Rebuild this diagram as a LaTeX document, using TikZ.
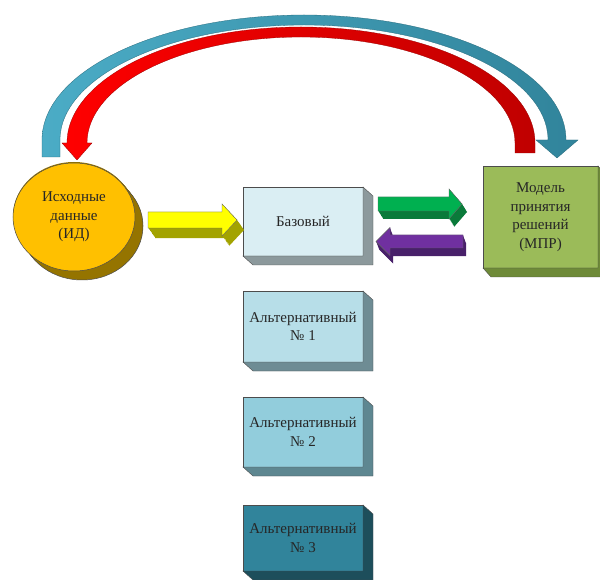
\documentclass[tikz,border=0pt]{standalone}
\usepackage{fontspec}
\setmainfont{Liberation Serif}
\usetikzlibrary{shapes.geometric,calc}
\definecolor{blueL}{HTML}{4BACC6}
\definecolor{blueD}{HTML}{31849B}
\definecolor{redL}{HTML}{FF0000}
\definecolor{redD}{HTML}{C00000}
\definecolor{idfront}{HTML}{FFC000}
\definecolor{iddark}{HTML}{957400}
\definecolor{basefront}{HTML}{DAEEF3}
\definecolor{baseside}{HTML}{8C999C}
\definecolor{altAfront}{HTML}{B7DEE8}
\definecolor{altAside}{HTML}{6E8C94}
\definecolor{altBfront}{HTML}{92CDDC}
\definecolor{altBside}{HTML}{5E8791}
\definecolor{altCfront}{HTML}{31849B}
\definecolor{altCside}{HTML}{1D4E5B}
\definecolor{mprfront}{HTML}{9BBB59}
\definecolor{mprside}{HTML}{6E8A38}
\definecolor{yfront}{HTML}{FFFF00}
\definecolor{ydark}{HTML}{A3A300}
\definecolor{gfront}{HTML}{00B050}
\definecolor{gdark}{HTML}{0A7A3A}
\definecolor{pfront}{HTML}{7030A0}
\definecolor{pdark}{HTML}{48206A}
\newcommand\arrowpoly[7]{\path[#1] (#2,#5-#6) -- (#3,#5-#6) -- (#3,#5-#7) -- (#4,#5) -- (#3,#5+#7) -- (#3,#5+#6) -- (#2,#5+#6) -- cycle;}
\newcommand\extrude[3]{\fill[#2, draw=black!70, line width=0.4pt] (#1.north east) -- ($(#1.north east)+(#3)$) -- ($(#1.south east)+(#3)$) -- ($(#1.south west)+(#3)$) -- (#1.south west) -- (#1.south east) -- cycle;}
\tikzset{
  lbl/.style={font=\fontsize{15}{18.5}\selectfont, align=center, text=black!85},
  box/.style={lbl, rectangle, draw=black!70, line width=0.5pt, inner sep=0pt, outer sep=0pt, minimum width=120pt},
  edge/.style={draw=black!60, line width=0.4pt}
}
\begin{document}
\begin{tikzpicture}[x=1pt,y=-1pt]
\useasboundingbox (0,0) rectangle (600,580);
\fill[white] (0,0) rectangle (600,580);

% big curved arrows
\shade[left color=blueL, right color=blueD, draw=blueD!80!black, line width=0.3pt]
  (42,157) -- (42,140) arc[start angle=180, end angle=360, x radius=262, y radius=125]
  -- (578,140) -- (557,158) -- (536,140) -- (548,140)
  arc[start angle=360, end angle=180, x radius=244, y radius=115] -- (60,157) -- cycle;
\shade[left color=redL, right color=redD, draw=redD!80!black, line width=0.3pt]
  (535,153) -- (535,143) arc[start angle=360, end angle=180, x radius=234, y radius=116]
  -- (62,143) -- (77,160) -- (92,143) -- (87,143)
  arc[start angle=180, end angle=360, x radius=214, y radius=106] -- (515,153) -- cycle;

% source data ellipse
\foreach \k in {0,1,...,12}{
  \fill[iddark] (74+0.67*\k,216+0.83*\k) ellipse [x radius=61, y radius=54];}
\draw[black!70, line width=0.5pt] (82,226) ellipse [x radius=61, y radius=54];
\node[lbl, ellipse, fill=idfront, draw=black!70, line width=0.5pt, inner sep=0pt,
  minimum width=122pt, minimum height=108pt] (id) at (74,217) {Исходные\\данные\\(ИД)};

% boxes
\node[box, fill=basefront, minimum height=69pt] (base) at (303,221.5) {Базовый};
\extrude{base}{baseside}{10,9}
\node[box, fill=altAfront, minimum height=71pt] (alt1) at (303,326.5) {Альтернативный\\№ 1};
\extrude{alt1}{altAside}{10,9}
\node[box, fill=altBfront, minimum height=70pt] (alt2) at (303,432) {Альтернативный\\№ 2};
\extrude{alt2}{altBside}{10,9}
\node[box, fill=altCfront, minimum height=66pt] (alt3) at (303,538) {Альтернативный\\№ 3};
\extrude{alt3}{altCside}{10,9}
\node[box, fill=mprfront, minimum width=115pt, minimum height=102pt] (mpr) at (540.5,217) {Модель\\принятия\\решений\\(МПР)};
\extrude{mpr}{mprside}{8,9}

% block arrows
\foreach \k in {0,0.1,...,1.01}{
  \arrowpoly{fill=ydark, shift={(7*\k,10*\k)}}{148}{222}{237}{220}{8}{16}}
\arrowpoly{fill=yfront, edge}{148}{222}{237}{220}{8}{16}

\foreach \k in {0,0.1,...,1.01}{
  \arrowpoly{fill=gdark, shift={(5*\k,8*\k)}}{378}{449}{462}{204}{7}{15}}
\arrowpoly{fill=gfront, edge}{378}{449}{462}{204}{7}{15}

\foreach \k in {0,0.1,...,1.01}{
  \arrowpoly{fill=pdark, shift={(3*\k,8*\k)}}{463}{390}{376}{241.5}{6.5}{14}}
\arrowpoly{fill=pfront, edge}{463}{390}{376}{241.5}{6.5}{14}
\end{tikzpicture}
\end{document}
